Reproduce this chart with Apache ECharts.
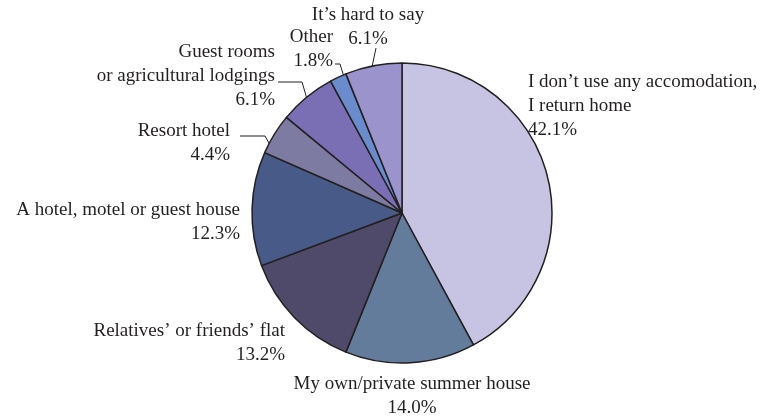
<!DOCTYPE html>
<html><head><meta charset="utf-8">
<script src="https://cdn.jsdelivr.net/npm/echarts@6/dist/echarts.min.js"></script>
<style>html,body{margin:0;padding:0;background:#fff}#c{width:781px;height:419px}</style>
</head><body><div id="c"></div>
<script>
const categories = [
  "I don’t use any accomodation,\nI return home",
  "My own/private summer house",
  "Relatives’ or friends’ flat",
  "A hotel, motel or guest house",
  "Resort hotel",
  "Guest rooms\nor agricultural lodgings",
  "Other",
  "It’s hard to say"
];
const values = [42.1, 14.0, 13.2, 12.3, 4.4, 6.1, 1.8, 6.1];
const colors = ["#c7c3e2", "#647c9c", "#4f4a6a", "#475a88", "#7e7ba2", "#7a6fb5", "#6b8ccc", "#9b93cc"];
// label placement: [x, top y, align]
const labelPos = [
  [528, 70, 'left'], [412, 372, 'center'], [285, 319, 'right'], [240, 198, 'right'],
  [230, 119, 'right'], [275, 40, 'right'], [333, 25, 'right'], [368, 3, 'center']
];
// leader lines (pie end, elbow, text end) or null
const leaders = [null, null, null, null,
  [[270, 145], [265, 136], [240, 136]],
  [[307, 99], [302, 82], [278, 82]],
  [[344, 77], [340, 64], [335, 64]],
  [[372, 67], [376, 48], [376, 48]]];

const cx = 402, cy = 213, R = 150;

const chart = echarts.init(document.getElementById('c'), null, {renderer: 'canvas'});
chart.setOption({
  animation: false,
  series: [{
    type: 'pie',
    center: [cx, cy],
    radius: R,
    startAngle: 90,
    clockwise: true,
    data: categories.map((n, i) => ({
      name: n, value: values[i],
      itemStyle: {color: colors[i]},
      labelLine: {show: !!leaders[i]}
    })),
    itemStyle: {borderColor: '#231f20', borderWidth: 1.5},
    label: {
      show: true,
      formatter: p => p.name + '\n' + p.value.toFixed(1) + '%',
      fontFamily: 'Liberation Serif',
      fontSize: 19,
      lineHeight: 24,
      color: '#231f20',
      overflow: 'none'
    },
    labelLine: {lineStyle: {color: '#231f20', width: 1}, smooth: false},
    labelLayout: function (params) {
      const i = params.dataIndex;
      const lp = labelPos[i];
      const out = {x: lp[0], y: lp[1], align: lp[2], verticalAlign: 'top', hideOverlap: false, moveOverlap: null, width: 400};
      if (leaders[i]) out.labelLinePoints = leaders[i];
      return out;
    }
  }]
});
</script></body></html>
